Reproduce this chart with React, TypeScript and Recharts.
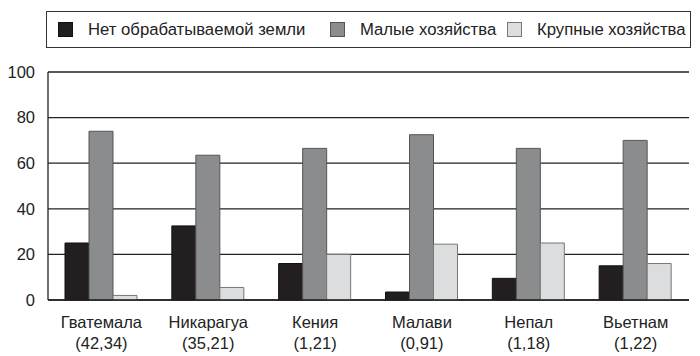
import { BarChart, Bar, XAxis, YAxis, CartesianGrid, Legend } from "recharts";

const countries = ["Гватемала", "Никарагуа", "Кения", "Малави", "Непал", "Вьетнам"];
const countryNotes = ["(42,34)", "(35,21)", "(1,21)", "(0,91)", "(1,18)", "(1,22)"];
const noLand = [25, 32.5, 16, 3.5, 9.5, 15];
const smallFarms = [74, 63.5, 66.5, 72.5, 66.5, 70];
const largeFarms = [2, 5.5, 20, 24.5, 25, 16];
const yTicks = [0, 20, 40, 60, 80, 100];

const series = [
  { key: "noLand", name: "Нет обрабатываемой земли", fill: "#231f20", stroke: "#111" },
  { key: "small", name: "Малые хозяйства", fill: "#8b8c8e", stroke: "#555" },
  { key: "large", name: "Крупные хозяйства", fill: "#dcdddf", stroke: "#777" },
];
// legend item widths (px) so the entries sit where the reference has them
const legendItemWidths = [272, 177, 170];

const data = countries.map((c, i) => ({
  country: c,
  note: countryNotes[i],
  noLand: noLand[i],
  small: smallFarms[i],
  large: largeFarms[i],
}));

const font = "'Liberation Sans', Arial, sans-serif";

function CountryTick({ x, y, payload, index }: any) {
  return (
    <g transform={`translate(${x},${y})`}>
      <text textAnchor="middle" fontSize={16.5} fill="#222" fontFamily={font}>
        <tspan x={0} dy={20}>{payload.value}</tspan>
        <tspan x={0} dy={21}>{countryNotes[index]}</tspan>
      </text>
    </g>
  );
}

function LegendBox() {
  return (
    <div style={{ height: 60 }}>
      <div
        style={{
          width: 632,
          height: 35,
          border: "1.5px solid #333",
          display: "flex",
          alignItems: "center",
          fontFamily: font,
          fontSize: 16.7,
          color: "#222",
          boxSizing: "content-box",
          whiteSpace: "nowrap",
          paddingLeft: 11,
          overflow: "hidden",
        }}
      >
        {series.map((s, i) => (
          <div
            key={s.key}
            style={{ display: "flex", alignItems: "center", width: legendItemWidths[i], flexShrink: 0 }}
          >
            <span
              style={{
                display: "inline-block",
                width: 13,
                height: 13,
                background: s.fill,
                border: `1px solid ${s.stroke}`,
                marginRight: 15,
                flexShrink: 0,
              }}
            />
            <span>{s.name}</span>
          </div>
        ))}
      </div>
    </div>
  );
}

export default function App() {
  return (
    <div style={{ position: "absolute", left: 0, top: 0, width: 700, height: 356, background: "#fff" }}>
      <BarChart
        width={700}
        height={356}
        data={data}
        margin={{ top: 12, right: 11, bottom: 0, left: 0 }}
        barGap={0}
        barSize={24}
      >
        <Legend
          verticalAlign="top"
          align="left"
          content={() => <LegendBox />}
          wrapperStyle={{ left: 46, top: 11, width: 650 }}
        />
        <CartesianGrid vertical={false} stroke="#222" strokeWidth={1.3} />
        <XAxis
          dataKey="country"
          tick={<CountryTick />}
          tickLine={false}
          axisLine={{ stroke: "#222", strokeWidth: 1.3 }}
          height={56}
          interval={0}
        />
        <YAxis
          domain={[0, 100]}
          ticks={yTicks}
          width={48}
          tickLine={false}
          tickSize={0}
          tickMargin={13}
          axisLine={{ stroke: "#222", strokeWidth: 1.3 }}
          tick={{ fontSize: 16.5, fill: "#222", fontFamily: font }}
        />
        {series.map((s) => (
          <Bar
            key={s.key}
            dataKey={s.key}
            name={s.name}
            fill={s.fill}
            stroke={s.stroke}
            strokeWidth={1}
            isAnimationActive={false}
          />
        ))}
      </BarChart>
    </div>
  );
}
